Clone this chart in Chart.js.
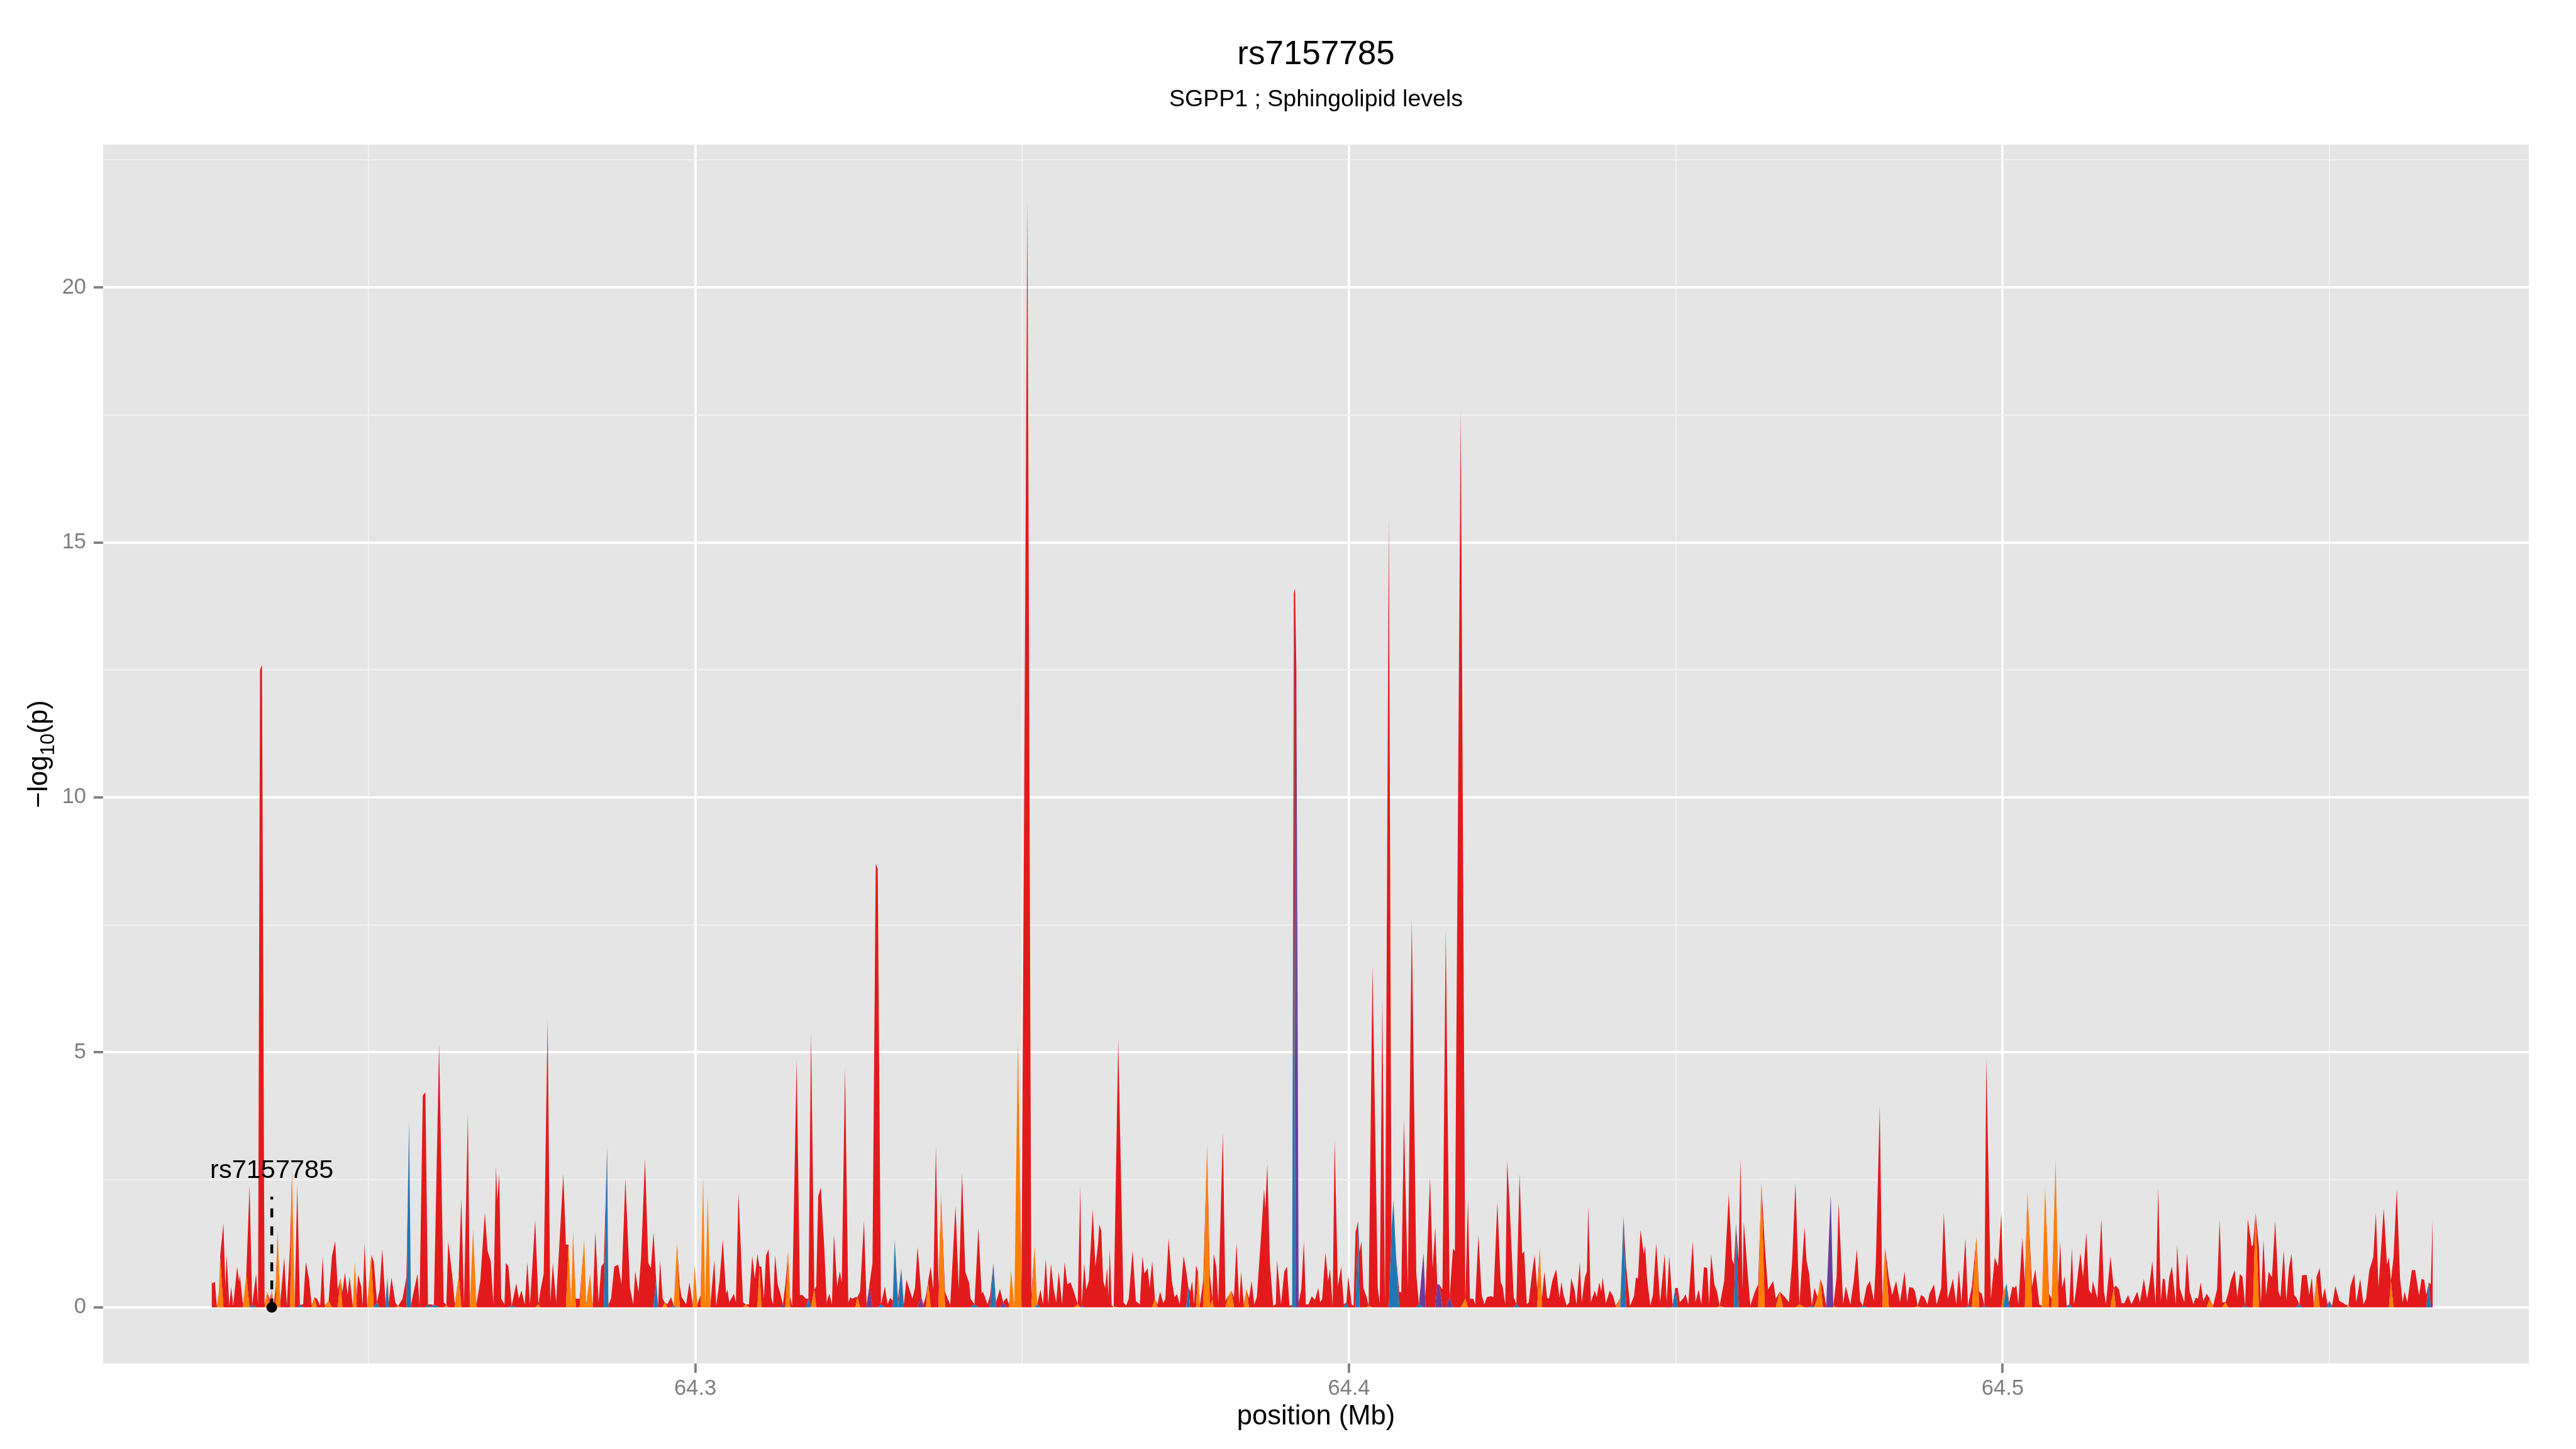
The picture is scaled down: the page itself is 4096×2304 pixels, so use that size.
<!DOCTYPE html>
<html>
<head>
<meta charset="utf-8">
<title>rs7157785</title>
<script src="https://cdn.jsdelivr.net/npm/chart.js@4.4.1/dist/chart.umd.min.js"></script>
<style>
  html, body { margin: 0; padding: 0; background: #ffffff; }
  #wrap { width: 4096px; height: 2304px; }
</style>
</head>
<body>
<div id="wrap"><canvas id="chart" width="4096" height="2304"></canvas></div>
<script>
// SNPs in the window, as [position (kb), -log10(p)] in five stretches.
const snpsA = [
  [64226.0,.47],[64226.5,.5],[64226.8,.02],[64227.1,.3],[64227.3,1.0],[64227.8,1.65],[64228.1,.4],[64228.3,1.03],[64228.7,.03],[64229.0,.4],
  [64229.3,.03],[64229.9,.8],[64230.2,.5],[64230.3,.65],[64230.8,.05],[64231.3,.65],[64231.8,2.4],[64232.2,.05],[64232.8,.66],[64233.1,.05],
  [64233.4,12.5],[64233.7,12.6],[64234.1,.05],[64234.5,.3],[64234.9,.15],[64235.2,.35],[64235.5,.05],[64235.8,.4],[64236.1,1.52],[64236.5,.1],
  [64237.1,.98],[64237.5,.03],[64238.0,1.2],[64238.3,2.69],[64238.7,.05],[64239.1,2.4],[64239.5,.05],[64240.0,.06],[64240.4,.89],[64240.9,.56],
  [64241.3,.04],[64241.7,.2],[64242.1,.17],[64242.6,.03],[64243.0,1.0],[64243.3,.03],[64243.9,.13],[64244.4,1.0],[64244.9,1.3],[64245.3,.35],
  [64245.7,.57],[64246.0,.3],[64246.4,.68],[64246.8,.24],[64247.1,.6],[64247.6,.03],[64247.9,.9],[64248.2,.24],[64248.4,.64],[64248.9,.4],
  [64249.1,.03],[64249.4,1.26],[64249.8,.03],[64250.4,1.03],[64250.8,.9],[64251.3,.1],[64251.7,.35],[64252.1,1.15],[64252.6,.1],[64252.9,.6],
  [64253.1,.1],[64253.5,.59],[64254.1,.1],[64254.5,.02],[64255.2,.17],[64255.8,.59],[64256.2,3.65],[64256.5,.05],[64256.9,.3],[64257.5,.66],
  [64257.8,.03],[64258.3,4.15],[64258.7,4.22],[64259.1,.06],[64259.5,.06],[64260.0,.05],[64260.8,5.17],[64261.5,.1],[64261.9,.05],[64262.2,1.3],
  [64262.8,.63],[64263.2,.06],[64263.8,.63],[64264.2,2.14],[64264.6,.06],[64265.2,3.8],[64265.5,.06],[64266.0,1.54],[64266.5,.06],[64267.1,.52],
  [64267.8,1.86],[64268.2,1.12],[64268.7,.9],[64269.1,.06],[64269.5,2.77],[64269.7,2.1],[64270.0,2.62],[64270.3,.17],[64270.8,.06],[64271.0,.87],
  [64271.4,.8],[64271.9,.03],[64272.6,.47],[64273.0,.17],[64273.4,.33],[64273.9,.06],[64274.3,.89],[64274.7,.06],[64275.5,1.72],[64276.0,.06],
  [64276.3,.33],[64276.8,.66],[64277.4,5.65],[64277.8,.1],[64278.2,.87],[64278.7,.1],[64279.8,2.62],[64280.2,1.23],[64280.6,1.23],[64281.0,.1],
  [64281.3,1.49],[64281.7,.17],[64282.3,.17],[64283.0,1.33],[64283.3,.06],[64283.9,.66],[64284.3,.03],[64284.7,1.49],[64285.2,.1],[64285.6,.8],
  [64286.0,.87],[64286.5,3.16],[64286.7,.06],[64287.1,.17],[64287.6,.8],[64288.2,.84],[64288.7,.45],[64289.3,2.53],[64290.0,.38],[64290.5,.06],
  [64290.8,.71],[64291.3,.3],[64291.7,.98],[64292.3,2.92],[64292.8,.87],[64293.2,.77]
];
const snpsB = [
  [64293.6,1.47],[64294.0,.54],[64294.3,.03],[64294.6,.93],[64295.0,.17],[64295.3,.1],[64295.7,.06],[64296.3,.2],[64296.7,.03],[64297.2,1.26],
  [64297.6,.43],[64297.9,.2],[64298.6,.06],[64299.1,.49],[64299.6,.06],[64299.9,.84],[64300.3,.06],[64300.8,.24],[64301.2,2.56],[64301.5,.03],
  [64301.9,2.18],[64302.3,.06],[64302.9,.93],[64303.2,.03],[64303.7,.52],[64304.2,1.33],[64304.7,.27],[64304.9,.35],[64305.2,.1],[64305.9,.27],
  [64306.2,.1],[64306.6,2.25],[64307.3,.1],[64307.7,.06],[64308.2,.06],[64308.7,1.01],[64309.1,.56],[64309.5,1.05],[64309.8,.8],[64310.1,.8],
  [64310.5,.17],[64310.8,1.01],[64311.2,1.14],[64311.6,.2],[64311.9,.06],[64312.2,1.03],[64312.6,.45],[64313.0,.27],[64313.4,.06],[64313.8,.49],
  [64314.2,1.1],[64314.5,.2],[64314.8,.03],[64315.5,4.87],[64316.0,.24],[64316.4,.24],[64316.9,.17],[64317.3,.17],[64317.7,5.4],[64318.2,.35],
  [64318.5,.41],[64318.8,2.18],[64319.2,2.35],[64319.7,1.23],[64320.1,.1],[64320.5,.27],[64320.9,.06],[64321.2,1.44],[64321.7,.41],[64322.1,.71],
  [64322.4,.49],[64322.9,4.71],[64323.4,.1],[64323.7,.2],[64324.0,.17],[64324.5,.2],[64324.8,.2],[64325.2,.31],[64325.8,1.7],[64326.2,.06],
  [64326.6,.41],[64327.1,.87],[64327.6,8.7],[64327.9,8.6],[64328.4,.06],[64329.0,.41],[64329.4,.06],[64329.8,.19],[64330.2,.13],[64330.5,1.33],
  [64331.0,.17],[64331.5,.77],[64331.9,.06],[64332.3,.54],[64333.2,.17],[64333.6,.38],[64334.0,1.19],[64334.6,.2],[64334.9,.06],[64335.3,.24],
  [64335.6,.5],[64336.0,.8],[64336.4,.35],[64336.8,3.16],[64337.2,.41],[64337.6,2.21],[64338.2,.31],[64338.6,.17],[64339.0,.06],[64339.8,2.0],
  [64340.3,.35],[64340.8,2.63],[64341.3,.7],[64341.9,.47],[64342.1,.17],[64342.7,.06],[64343.3,1.56],[64343.8,.27],[64344.0,.31],[64344.7,.06],
  [64345.1,.24],[64345.6,.87],[64346.0,.1],[64346.6,.36],[64347.1,.1],[64347.6,.19],[64348.0,.06],[64348.3,.73],[64348.8,.03],[64349.35,5.3],
  [64349.9,.5],[64350.8,21.7],[64351.4,.24],[64351.9,1.19],[64352.3,.06],[64352.8,.35],[64353.2,.06],[64353.6,.96],[64354.0,.06],[64354.4,.86],
  [64354.8,.38],[64355.2,.1],[64355.6,.7],[64356.1,.06],[64356.5,.89],[64356.9,.45],[64357.4,.49],[64357.9,.31],[64358.5,.06],[64358.9,2.39],
  [64359.1,.03],[64359.5,.86],[64359.8,.35],[64360.2,.52],[64360.8,1.93],[64361.2,.8],[64361.6,1.23]
];
const snpsC = [
  [64361.8,1.63],[64362.1,1.5],[64362.4,.52],[64362.7,.38],[64363.0,.77],[64363.2,.2],[64363.4,1.15],[64363.7,.03],[64364.0,.02],[64364.7,5.27],
  [64365.5,.1],[64365.9,.03],[64366.3,.17],[64366.9,1.12],[64367.4,.12],[64368.0,.06],[64368.4,1.01],[64368.7,.66],[64369.2,.77],[64369.5,.38],
  [64369.9,.91],[64370.3,.17],[64370.7,.06],[64371.1,.31],[64371.6,.08],[64371.9,.17],[64372.4,1.35],[64372.9,.52],[64373.3,.2],[64373.7,.26],
  [64374.1,.06],[64374.7,1.01],[64375.1,.71],[64375.4,.41],[64375.7,.31],[64376.0,.52],[64376.3,.06],[64376.6,.82],[64376.9,.7],[64377.2,.06],
  [64377.7,.52],[64378.3,3.2],[64378.7,.66],[64379.1,.17],[64379.3,1.05],[64379.7,.8],[64380.0,.1],[64380.7,3.43],[64381.1,.13],[64381.6,.24],
  [64382.0,.33],[64382.4,.2],[64382.8,1.26],[64383.2,.06],[64383.5,.7],[64383.9,.06],[64384.3,.36],[64384.7,.17],[64385.1,.52],[64385.5,.06],
  [64385.9,.2],[64386.6,1.5],[64387.0,2.32],[64387.2,1.93],[64387.5,2.81],[64387.9,.87],[64388.4,.03],[64388.8,.06],[64389.0,.93],[64389.6,.06],
  [64390.1,.7],[64390.5,.8],[64390.9,.03],[64391.3,.05],[64391.55,14.0],[64391.75,14.1],[64391.95,12.5],[64392.3,.1],[64392.7,.35],[64393.1,1.3],
  [64393.4,.06],[64393.8,.06],[64394.3,.22],[64394.8,.15],[64395.3,.38],[64395.6,.1],[64395.9,.17],[64396.4,1.08],[64396.8,.52],[64397.1,.75],
  [64397.5,.03],[64397.8,3.3],[64398.3,.41],[64398.8,.8],[64399.2,.06],[64399.6,.1],[64399.9,.61],[64400.4,.06],[64400.7,.03],[64401.0,1.47],
  [64401.4,1.7],[64401.6,1.08],[64401.9,1.3],[64402.2,.38],[64402.7,.2],[64403.0,.03],[64403.6,6.7],[64404.4,.38],[64404.7,.08],[64405.1,6.06],
  [64405.5,.06],[64406.1,15.5],[64406.5,1.5],[64406.8,2.12],[64407.2,1.0],[64407.7,.3],[64408.0,.3],[64408.4,3.7],[64409.0,.4],[64409.6,7.6],
  [64410.3,.66],[64410.7,.06],[64411.4,1.07],[64411.7,.2],[64412.4,2.55],[64412.8,.77],[64413.2,1.58],[64413.5,.45],[64413.8,.45],[64414.3,.35],
  [64414.8,7.4],[64415.4,.2],[64415.9,1.15],[64416.2,1.1],[64417.1,17.6],[64417.8,.17],[64418.2,2.12],[64418.5,.17],[64419.0,.17],[64419.3,.06],
  [64419.8,1.42],[64420.3,.24],[64420.7,.06],[64421.1,.2],[64421.7,.22],[64422.1,.2],[64422.7,2.07],[64423.2,.5],[64423.5,.41],[64423.9,.06],
  [64424.2,2.88],[64424.6,1.93],[64425.2,.2],[64425.6,.06],[64426.1,2.62],[64426.5,1.05],[64426.8,1.1],[64427.2,.06],[64427.5,.1],[64428.0,.66],
  [64428.4,1.03],[64428.8,.35],[64429.2,1.17],[64429.5,.17],[64429.9,.7]
];
const snpsD = [
  [64430.3,.19],[64430.6,.17],[64431.1,.52],[64431.7,.75],[64432.2,.19],[64432.5,.5],[64432.8,.26],[64433.3,.03],[64433.7,.1],[64434.0,.57],
  [64434.5,.35],[64434.8,.06],[64435.3,.89],[64435.6,.1],[64436.1,.59],[64436.4,.71],[64436.6,1.98],[64437.0,.1],[64437.6,.33],[64437.9,.2],
  [64438.3,.49],[64438.6,.31],[64438.8,.59],[64439.3,.08],[64439.9,.33],[64440.4,.22],[64440.8,.03],[64441.5,.19],[64442.0,1.79],[64442.4,.8],
  [64443.0,.03],[64443.6,.22],[64443.9,.59],[64444.2,.56],[64444.6,1.52],[64445.1,1.05],[64445.3,1.21],[64445.6,.56],[64446.1,.04],[64446.5,.24],
  [64447.0,1.26],[64447.6,.1],[64448.3,1.05],[64448.6,.1],[64449.0,1.01],[64449.5,.06],[64449.9,.38],[64450.3,.38],[64450.6,.1],[64451.1,.17],
  [64451.5,.26],[64451.9,.06],[64452.6,1.3],[64453.0,.1],[64453.5,.35],[64453.9,.06],[64454.3,.79],[64454.8,.77],[64455.1,.06],[64455.4,1.05],
  [64455.9,.45],[64456.3,.31],[64456.7,.03],[64457.4,.52],[64458.1,2.23],[64458.6,.94],[64458.9,.84],[64459.2,1.65],[64459.6,.94],[64459.9,2.92],
  [64460.2,.35],[64460.4,1.68],[64461.0,.66],[64461.4,.03],[64462.1,.31],[64462.6,.45],[64463.1,2.44],[64463.6,1.23],[64464.1,.35],[64464.9,.52],
  [64465.3,.17],[64465.9,.31],[64466.4,.24],[64466.9,.17],[64467.3,.1],[64467.8,.91],[64468.3,2.44],[64468.9,.06],[64469.7,1.58],[64470.0,.91],
  [64470.4,.66],[64470.8,.03],[64471.2,.38],[64471.7,.2],[64472.1,.56],[64472.5,.41],[64473.0,.03],[64473.7,2.21],[64474.1,.03],[64474.6,.59],
  [64474.9,2.05],[64475.6,.06],[64476.0,.41],[64476.7,.06],[64477.2,.49],[64477.7,1.14],[64478.2,.13],[64478.6,.03],[64479.2,.41],[64479.7,.52],
  [64480.3,.13],[64480.6,.87],[64481.2,3.95],[64481.6,.17],[64482.0,1.19],[64482.6,.57],[64483.1,.24],[64483.7,.52],[64484.3,.1],[64485.0,.7],
  [64485.4,.1],[64485.7,.4],[64486.3,.38],[64486.6,.31],[64487.0,.03],[64487.5,.24],[64488.0,.2],[64488.5,.06],[64488.8,.27],[64489.5,.45],
  [64489.9,.06],[64490.6,.38],[64491.0,1.86],[64491.6,.17],[64492.4,.56],[64492.9,.06],[64493.3,.73],[64493.7,.1],[64494.3,1.35],[64494.7,.03],
  [64495.3,.41],[64496.0,1.4],[64496.4,.31],[64496.8,.27],[64497.2,.03],[64497.5,4.89]
];
const snpsE = [
  [64498.2,.17],[64498.8,.98],[64499.3,.8],[64499.8,1.86],[64500.1,.31],[64500.6,.47],[64501.0,.1],[64501.5,.41],[64501.8,.38],[64502.1,.43],
  [64502.4,.06],[64503.0,1.37],[64503.4,.49],[64503.8,2.26],[64504.5,.41],[64505.0,.75],[64505.6,.06],[64506.0,.03],[64506.5,2.37],[64507.1,.27],
  [64507.5,.17],[64508.1,2.9],[64508.5,.38],[64508.8,1.3],[64509.1,.38],[64509.5,.61],[64509.8,.03],[64510.2,.06],[64510.6,1.17],[64510.9,.06],
  [64511.2,.31],[64511.9,1.07],[64512.3,.59],[64512.8,1.47],[64513.2,.35],[64513.6,.26],[64513.8,.52],[64514.5,.17],[64515.1,1.74],[64515.5,.31],
  [64515.8,.06],[64516.5,1.0],[64517.0,.38],[64517.3,.43],[64517.8,.35],[64518.2,.08],[64518.6,.08],[64519.2,.24],[64519.7,.06],[64520.6,.31],
  [64521.0,.1],[64521.6,.56],[64522.1,.17],[64522.5,.49],[64522.9,.91],[64523.4,.06],[64523.8,2.35],[64524.2,.13],[64524.5,.56],[64524.8,.56],
  [64525.1,.13],[64525.5,.59],[64525.9,.8],[64526.5,.06],[64526.7,1.23],[64527.1,.38],[64527.8,.1],[64528.2,1.05],[64528.6,.31],[64529.2,.06],
  [64529.5,.19],[64529.9,.17],[64530.3,.49],[64530.7,.12],[64531.2,.27],[64531.7,.17],[64532.2,.03],[64532.8,.35],[64533.2,1.72],[64533.6,.1],
  [64534.1,.1],[64534.5,.27],[64534.9,.52],[64535.5,.73],[64535.9,.2],[64536.3,.66],[64536.7,.59],[64537.1,.03],[64537.5,1.74],[64538.1,1.19],
  [64538.3,1.23],[64538.7,1.86],[64539.2,1.19],[64539.5,.06],[64539.9,1.33],[64540.3,.24],[64540.7,.7],[64541.2,.59],[64541.7,1.7],[64542.2,.31],
  [64542.5,.2],[64543.0,1.12],[64543.4,.13],[64543.8,.77],[64544.2,1.05],[64544.6,.24],[64544.9,.2],[64545.4,.06],[64545.8,.63],[64546.5,.64],
  [64546.9,.24],[64547.3,.59],[64547.6,.06],[64548.0,.59],[64548.5,.77],[64548.9,.17],[64549.3,.38],[64549.7,.06],[64550.0,.13],[64550.4,.03],
  [64550.9,.42],[64551.5,.13],[64551.9,.1],[64552.4,.06],[64552.9,.03],[64553.2,.41],[64553.8,.66],[64554.1,.1],[64554.7,.56],[64555.2,.06],
  [64555.6,.17],[64556.1,.73],[64556.7,.98],[64557.1,1.86],[64557.5,.38],[64558.3,1.95],[64558.8,.84],[64559.1,.98],[64559.4,.52],[64559.8,.98],
  [64560.3,2.32],[64560.8,.56],[64561.2,.1],[64561.5,.31],[64561.9,.1],[64562.6,.73],[64563.1,.73],[64563.7,.24],[64564.1,.56],[64564.5,.54],
  [64564.8,.24],[64565.2,.49],[64565.5,.45],[64565.8,1.8]
];

// LD class of the SNPs that are not in the low (red) class, by position (kb).
const orangeSnpsKb = [
  64227.1,64227.3,64231.3,64234.5,64235.2,64236.1,64238.3,64241.7,64243.9,64245.7,64247.9,64250.4,64254.5,64261.9,64263.8,64266.0,
  64276.0,64280.6,64281.3,64283.0,64283.9,64295.3,64297.2,64299.9,64301.2,64301.9,64307.7,64309.8,64314.2,64318.2,64324.8,64335.6,
  64337.6,64348.3,64349.35,64351.9,64358.5,64364.0,64370.3,64376.9,64378.3,64379.1,64381.6,64382.0,64384.3,64403.0,64417.8,64429.2,
  64441.5,64456.7,64463.1,64465.9,64468.9,64471.7,64472.1,64474.1,64482.0,64487.0,64496.0,64500.1,64503.8,64506.5,64508.1,64517.0,
  64531.7,64534.1,64538.7,64548.0,64552.9,64559.4
];
const blueSnpsKb = [
  64232.2,64239.5,64251.3,64252.9,64256.2,64259.1,64260.0,64271.9,64286.5,64294.0,64296.7,64317.3,64328.4,64330.5,64331.5,64342.7,
  64345.6,64352.3,64359.1,64375.4,64391.55,64399.6,64401.4,64406.5,64406.8,64407.2,64410.7,64425.6,64442.0,64449.9,64459.2,64470.8,
  64478.6,64494.7,64497.2,64500.6,64510.2,64537.1,64545.4,64550.0,64565.2
];
const purpleSnpsKb = [64313.4,64326.6,64334.6,64347.1,64391.95,64411.4,64413.5,64413.8,64415.4,64473.7];

// Highlighted SNP
const leadSnp = "rs7157785";
const leadSnpKb = 64235.2;
const leadLineTop = 2.17;
const leadLabelY = 2.54;

// Axes
const xMajorTicks = [64.3, 64.4, 64.5];
const xMinorTicks = [64.25, 64.35, 64.45, 64.55];
const yMajorTicks = [0, 5, 10, 15, 20];
const yMinorTicks = [2.5, 7.5, 12.5, 17.5, 22.5];

const titleText = "rs7157785";
const subtitleText = "SGPP1 ; Sphingolipid levels";
const xTitleText = "position (Mb)";

const COLORS = { blue: "#1F78B4", purple: "#6A3D9A", orange: "#FF7F00", red: "#E31A1C" };
const FONT = "'Liberation Sans', Arial, Helvetica, sans-serif";

// Build the stacked layers (one per LD class) from the SNP list.
const snps = [...snpsA, ...snpsB, ...snpsC, ...snpsD, ...snpsE];
const key = kb => Math.round(kb * 100);
const ldClass = {};
orangeSnpsKb.forEach(k => { ldClass[key(k)] = "orange"; });
blueSnpsKb.forEach(k => { ldClass[key(k)] = "blue"; });
purpleSnpsKb.forEach(k => { ldClass[key(k)] = "purple"; });

function layer(cls) {
    return snps.map(([kb, v]) => ({
        x: kb / 1000,
        y: (ldClass[key(kb)] || "red") === cls ? v : 0
    }));
}

const stackOrder = ["blue", "purple", "orange", "red"];
const areaSets = stackOrder.map((cls, i) => ({
    label: cls,
    data: layer(cls),
    backgroundColor: COLORS[cls],
    borderColor: COLORS[cls],
    borderWidth: 0,
    pointRadius: 0,
    tension: 0,
    fill: i === 0 ? "origin" : "-1",
    stack: "ld"
}));

const leadLine = {
    label: "lead-line",
    data: [{ x: leadSnpKb / 1000, y: 0 }, { x: leadSnpKb / 1000, y: leadLineTop }],
    borderColor: "#000000",
    borderWidth: 4.5,
    borderDash: [14.3, 14.3],
    pointRadius: 0,
    fill: false,
    stack: "lead-line",
    order: -1
};
const leadPoint = {
    label: "lead-point",
    data: [{ x: leadSnpKb / 1000, y: 0 }],
    showLine: false,
    pointRadius: 8.5,
    pointBackgroundColor: "#000000",
    pointBorderWidth: 0,
    fill: false,
    stack: "lead-point",
    order: -2
};

// Grey panel behind the plot area.
const panelBg = {
    id: "panelBg",
    beforeDraw(chart) {
        const { ctx, chartArea: a } = chart;
        ctx.save();
        ctx.fillStyle = "#ffffff";
        ctx.fillRect(0, 0, chart.width, chart.height);
        ctx.fillStyle = "#E5E5E5";
        ctx.fillRect(a.left, a.top, a.right - a.left, a.bottom - a.top);
        ctx.restore();
    }
};

// Titles, axis titles and the SNP label.
const textLayer = {
    id: "textLayer",
    afterDraw(chart) {
        const { ctx, chartArea: a, scales } = chart;
        const cx = (a.left + a.right) / 2;
        ctx.save();
        ctx.fillStyle = "#000000";
        ctx.textAlign = "center";
        ctx.textBaseline = "alphabetic";

        ctx.font = `53px ${FONT}`;
        ctx.fillText(titleText, cx, 102);
        ctx.font = `37.5px ${FONT}`;
        ctx.fillText(subtitleText, cx, 169);
        ctx.font = `43.5px ${FONT}`;
        ctx.fillText(xTitleText, cx, 2265);

        ctx.font = `41.5px ${FONT}`;
        ctx.fillText(leadSnp, scales.x.getPixelForValue(leadSnpKb / 1000), scales.y.getPixelForValue(leadLabelY));

        // -log10(p) with subscript, rotated
        ctx.translate(75, (a.top + a.bottom) / 2);
        ctx.rotate(-Math.PI / 2);
        const big = 43.5, small = big * 0.72;
        ctx.font = `${big}px ${FONT}`;
        const w1 = ctx.measureText("\u2212log").width;
        const w3 = ctx.measureText("(p)").width;
        ctx.font = `${small}px ${FONT}`;
        const w2 = ctx.measureText("10").width;
        let x = -(w1 + w2 + w3) / 2;
        ctx.textAlign = "left";
        ctx.font = `${big}px ${FONT}`;
        ctx.fillText("\u2212log", x, 0);
        x += w1;
        ctx.font = `${small}px ${FONT}`;
        ctx.fillText("10", x, big * 0.25);
        x += w2;
        ctx.font = `${big}px ${FONT}`;
        ctx.fillText("(p)", x, 0);
        ctx.restore();
    }
};

const isIn = (list, v) => list.some(t => Math.abs(t - v) < 1e-9);

new Chart(document.getElementById("chart"), {
    type: "line",
    data: { datasets: [...areaSets, leadLine, leadPoint] },
    options: {
        responsive: false,
        devicePixelRatio: 1,
        animation: false,
        normalized: true,
        layout: { padding: { top: 230, right: 75, left: 0, bottom: 0 } },
        plugins: {
            legend: { display: false },
            tooltip: { enabled: false },
            title: { display: false }
        },
        scales: {
            x: {
                type: "linear",
                min: 64.2094,
                max: 64.5805,
                afterBuildTicks: s => {
                    s.ticks = [...xMajorTicks, ...xMinorTicks].sort((p, q) => p - q).map(v => ({ value: v }));
                },
                afterFit: s => { s.height = 136; },
                border: { display: false },
                grid: {
                    color: c => isIn(xMajorTicks, c.tick.value) ? "#FFFFFF" : "#F2F2F2",
                    lineWidth: c => isIn(xMajorTicks, c.tick.value) ? 3.8 : 1.9,
                    tickLength: 15,
                    tickWidth: 3.8,
                    tickColor: c => isIn(xMajorTicks, c.tick.value) ? "#7F7F7F" : "rgba(0,0,0,0)"
                },
                ticks: {
                    autoSkip: false,
                    maxRotation: 0,
                    padding: 5,
                    color: "#7F7F7F",
                    font: { family: FONT, size: 34.5 },
                    callback: v => isIn(xMajorTicks, v) ? v.toFixed(1) : ""
                }
            },
            y: {
                type: "linear",
                stacked: true,
                min: -1.1,
                max: 22.8,
                afterBuildTicks: s => {
                    s.ticks = [...yMajorTicks, ...yMinorTicks].sort((p, q) => p - q).map(v => ({ value: v }));
                },
                afterFit: s => { s.width = 164; },
                border: { display: false },
                grid: {
                    color: c => isIn(yMajorTicks, c.tick.value) ? "#FFFFFF" : "#F2F2F2",
                    lineWidth: c => isIn(yMajorTicks, c.tick.value) ? 3.8 : 1.9,
                    tickLength: 15,
                    tickWidth: 3.8,
                    tickColor: c => isIn(yMajorTicks, c.tick.value) ? "#7F7F7F" : "rgba(0,0,0,0)"
                },
                ticks: {
                    autoSkip: false,
                    padding: 12,
                    color: "#7F7F7F",
                    font: { family: FONT, size: 34.5 },
                    callback: v => isIn(yMajorTicks, v) ? String(v) : ""
                }
            }
        }
    },
    plugins: [panelBg, textLayer]
});
</script>
</body>
</html>
